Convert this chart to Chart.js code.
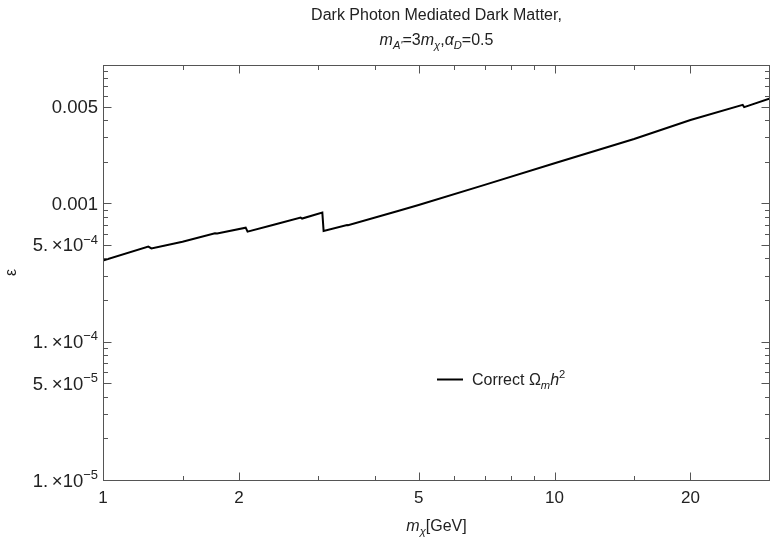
<!DOCTYPE html>
<html lang="en">
<head>
  <meta charset="UTF-8" />
  <title>Dark Photon Mediated Dark Matter</title>
  <script src="https://cdn.jsdelivr.net/npm/chart.js"></script>
  <style>
    html, body { margin: 0; padding: 0; background: #fff; }
    #wrap { width: 770px; height: 537px; }
  </style>
</head>
<body>
  <div id="wrap"><canvas id="grafico" width="770" height="537"></canvas></div>

  <script>
    // values
    const massGeV = [1, 1.26, 1.28, 1.5, 1.77, 1.79, 2.07, 2.09, 2.4, 2.74, 2.76, 3.06, 3.08,
                     3.47, 3.49, 4.5, 5, 7, 10, 15, 20, 26.1, 26.3, 30];
    const epsilon = [3.86e-4, 4.87e-4, 4.72e-4, 5.28e-4, 6.08e-4, 6.06e-4, 6.67e-4, 6.24e-4,
                     7.02e-4, 7.88e-4, 7.76e-4, 8.57e-4, 6.32e-4, 6.98e-4, 6.94e-4, 8.81e-4,
                     9.74e-4, 1.36e-3, 1.95e-3, 2.92e-3, 4.0e-3, 5.15e-3, 4.96e-3, 5.72e-3];

    const xMajor = [1, 2, 5, 10, 20];
    const xMinor = [1.5, 3, 4, 6, 7, 8, 9, 15, 30];
    const yMajor = [1e-5, 5e-5, 1e-4, 5e-4, 1e-3, 5e-3];
    const yMantissa = ['1.', '5.', '1.', '5.', '0.001', '0.005'];
    const yExponent = ['−5', '−5', '−4', '−4', '', ''];
    const yMinor = [2e-5, 3e-5, 4e-5, 6e-5, 7e-5, 8e-5, 9e-5,
                    2e-4, 3e-4, 4e-4, 6e-4, 7e-4, 8e-4, 9e-4,
                    2e-3, 3e-3, 4e-3, 6e-3, 7e-3, 8e-3, 9e-3];

    const FONTE = '"Liberation Sans", Arial, Helvetica, sans-serif';

    // draws pieces of text with italic / sub / sup, y = baseline
    function textoRico(ctx, partes, x, y, align, size) {
      const itens = partes.map(([t, estilo = '']) => {
        const pequeno = estilo.includes('sub') || estilo.includes('sup');
        const s = pequeno ? size * 0.7 : size;
        const font = (estilo.includes('i') ? 'italic ' : '') + s + 'px ' + FONTE;
        ctx.font = font;
        let dy = 0;
        if (estilo.includes('sub')) dy = size * 0.28;
        if (estilo.includes('sup')) dy = -size * 0.42;
        return { t, font, dy, w: ctx.measureText(t).width };
      });
      const total = itens.reduce((a, b) => a + b.w, 0);
      let cx = align === 'center' ? x - total / 2 : align === 'right' ? x - total : x;
      ctx.textAlign = 'left';
      ctx.textBaseline = 'alphabetic';
      itens.forEach(it => {
        ctx.font = it.font;
        ctx.fillText(it.t, cx, y + it.dy);
        cx += it.w;
      });
    }

    const moldura = {
      id: 'moldura',
      afterDraw(chart) {
        const { ctx, chartArea: a, scales: { x, y } } = chart;
        const L = Math.round(a.left) + 0.5;
        const R = Math.min(Math.round(a.right), chart.width - 1) + 0.5;
        const T = Math.round(a.top) + 0.5;
        const B = Math.round(a.bottom) + 0.5;
        ctx.save();
        ctx.strokeStyle = '#555';
        ctx.lineWidth = 1;
        ctx.strokeRect(L, T, R - L, B - T);

        ctx.beginPath();
        const xt = (v, len) => {
          const p = Math.round(x.getPixelForValue(v)) + 0.5;
          if (p < L || p > R) return;
          ctx.moveTo(p, B); ctx.lineTo(p, B - len);
          ctx.moveTo(p, T); ctx.lineTo(p, T + len);
        };
        const yt = (v, len) => {
          const p = Math.round(y.getPixelForValue(v)) + 0.5;
          ctx.moveTo(L, p); ctx.lineTo(L + len, p);
          ctx.moveTo(R, p); ctx.lineTo(R - len, p);
        };
        xMajor.forEach(v => xt(v, 8));
        xMinor.forEach(v => xt(v, 4.5));
        yMajor.forEach(v => yt(v, 8));
        yMinor.forEach(v => yt(v, 4.5));
        ctx.stroke();

        // y tick labels
        ctx.fillStyle = '#222';
        yMajor.forEach((v, i) => {
          const p = y.getPixelForValue(v);
          const partes = yExponent[i]
            ? [[yMantissa[i]], ['\u2009×'], ['10'], [yExponent[i], 'sup']]
            : [[yMantissa[i]]];
          textoRico(ctx, partes, 98, p + 6.5, 'right', 18.5);
        });

        // title
        const cx = (a.left + a.right) / 2;
        ctx.fillStyle = '#222';
        textoRico(ctx, [['Dark Photon Mediated Dark Matter,']], cx, 19.5, 'center', 16);
        textoRico(ctx, [['m', 'i'], ["A'", 'subi'], ['=3'], ['m', 'i'], ['χ', 'subi'],
                        [','], ['α', 'i'], ['D', 'subi'], ['=0.5']], cx, 44.5, 'center', 16);

        // x axis title
        textoRico(ctx, [['m', 'i'], ['χ', 'subi'], ['[GeV]']], cx, 531, 'center', 16);

        // legend
        ctx.strokeStyle = '#000';
        ctx.lineWidth = 2;
        ctx.beginPath();
        ctx.moveTo(437, 379.5); ctx.lineTo(463, 379.5);
        ctx.stroke();
        textoRico(ctx, [['Correct Ω'], ['m', 'subi'], ['h', 'i'], ['2', 'sup']], 472, 385, 'left', 16);
        ctx.restore();
      }
    };

    new Chart(document.getElementById('grafico'), {
      type: 'line',
      data: {
        datasets: [{
          label: 'Correct Ωmh2',
          data: massGeV.map((m, i) => ({ x: m, y: epsilon[i] })),
          borderColor: '#000',
          borderWidth: 2,
          pointRadius: 0,
          tension: 0,
          fill: false
        }]
      },
      options: {
        responsive: false,
        animation: false,
        layout: { padding: { top: 65, right: 0, left: 0, bottom: 0 } },
        plugins: { legend: { display: false }, tooltip: { enabled: false }, title: { display: false } },
        scales: {
          x: {
            type: 'logarithmic',
            min: 1,
            max: 30,
            grid: { display: false, drawTicks: false },
            border: { display: false },
            afterBuildTicks: s => { s.ticks = xMajor.map(v => ({ value: v })); },
            afterFit: s => { s.height = 57; s.paddingLeft = 0; s.paddingRight = 0; },
            ticks: {
              autoSkip: false,
              maxRotation: 0,
              padding: 8,
              color: '#222',
              font: { family: FONTE, size: 17 },
              callback: v => String(v)
            }
          },
          y: {
            type: 'logarithmic',
            min: 1e-5,
            max: 1e-2,
            grid: { display: false, drawTicks: false },
            border: { display: false },
            afterBuildTicks: s => { s.ticks = yMajor.map(v => ({ value: v })); },
            afterFit: s => { s.width = 103; },
            ticks: { display: false },
            title: {
              display: true,
              text: 'ε',
              color: '#222',
              font: { family: FONTE, size: 16 },
              padding: { top: 2, bottom: 0 }
            }
          }
        }
      },
      plugins: [moldura]
    });
  </script>
</body>
</html>
